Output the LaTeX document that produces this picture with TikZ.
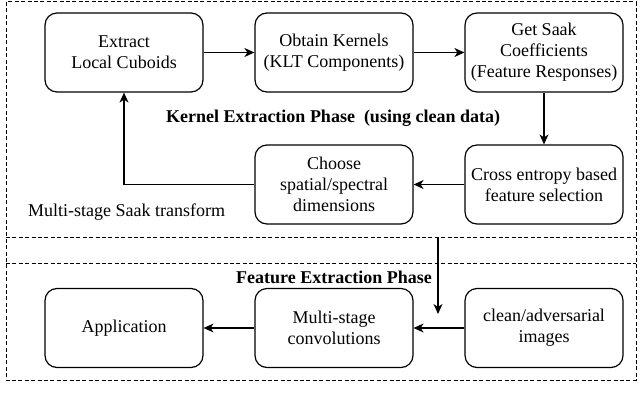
\documentclass[tikz,border=0pt]{standalone}
\usepackage{fontspec}
\setmainfont{Liberation Serif}
\usetikzlibrary{arrows.meta}

\tikzset{
  stepbox/.style={draw, rounded corners=6pt, line width=0.6pt, align=center,
    minimum width=79pt, minimum height=39.5pt, inner sep=0pt,
    font=\fontsize{9}{10.5}\selectfont},
  phase/.style={draw, dash pattern=on 2pt off 1.2pt, line width=0.5pt},
  flow/.style={-{Stealth[length=5pt,width=4.5pt,inset=1.5pt]}, line width=0.55pt},
  caption/.style={font=\fontsize{9}{10.5}\selectfont}
}

\begin{document}
\begin{tikzpicture}[x=0.5pt, y=-0.5pt]
\useasboundingbox (0,0) rectangle (640,411);

% phase frames
\draw[phase] (6,2) rectangle (636,380);
\draw[phase] (6,237) -- (636,237);
\draw[phase] (6,263) -- (636,263);

% kernel extraction phase
\node[stepbox] (cuboids) at (124,52.5) {Extract\\Local Cuboids};
\node[stepbox] (kernels) at (334,52.5) {Obtain Kernels\\(KLT Components)};
\node[stepbox] (coeffs) at (544,52.5) {Get Saak\\Coefficients\\(Feature Responses)};
\node[stepbox] (select) at (544,184.5) {Cross entropy based\\feature selection};
\node[stepbox] (choose) at (334,184.5) {Choose\\spatial/spectral\\dimensions};

\node[caption, font=\fontsize{9}{10.5}\selectfont\bfseries] (kernlab) at (333,118)
   {Kernel Extraction Phase\ \ (using clean data)};
\node[caption, anchor=west] (saaklab) at (21,212) {Multi-stage Saak transform};

\draw[flow] (cuboids) -- (kernels);
\draw[flow] (kernels) -- (coeffs);
\draw[flow] (coeffs) -- (select);
\draw[flow] (select) -- (choose);
\draw[flow] (choose.west) -| (cuboids.south);

% feature extraction phase
\node[caption, font=\fontsize{9}{10.5}\selectfont\bfseries] (featlab) at (334,277)
   {Feature Extraction Phase};
\node[stepbox] (app) at (124,328) {Application};
\node[stepbox] (conv) at (334,328) {Multi-stage\\convolutions};
\node[stepbox] (images) at (544,328) {clean/adversarial\\images};

\draw[flow] (images) -- (conv);
\draw[flow] (conv) -- (app);

\coordinate (handoff) at (438,237);
\coordinate (handin) at (438,314);
\draw[flow] (handoff) -- (handin);

\end{tikzpicture}
\end{document}
